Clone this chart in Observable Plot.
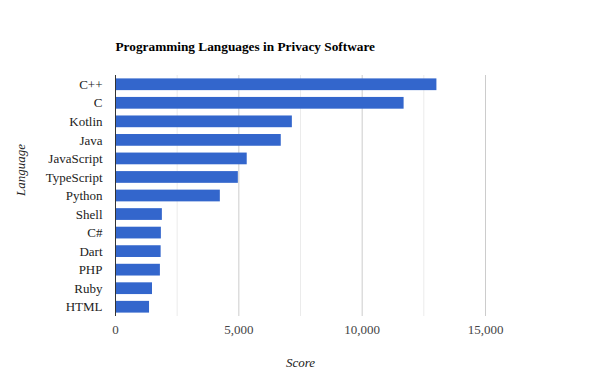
<!DOCTYPE html>
<html>
<head>
<meta charset="utf-8">
<script src="https://cdn.jsdelivr.net/npm/d3@7"></script>
<script src="https://cdn.jsdelivr.net/npm/@observablehq/plot@0.6"></script>
<style>
  html, body { margin: 0; padding: 0; background: white; }
</style>
</head>
<body>
<div id="chart"></div>
<script>
const title = "Programming Languages in Privacy Software";
const languages = ["C++", "C", "Kotlin", "Java", "JavaScript", "TypeScript", "Python", "Shell", "C#", "Dart", "PHP", "Ruby", "HTML"];
const scores = [13030, 11700, 7170, 6720, 5340, 4980, 4250, 1900, 1860, 1850, 1820, 1500, 1380];
const majorTicks = [0, 5000, 10000, 15000];
const minorTicks = [2500, 7500, 12500];
const xTitle = "Score";
const yTitle = "Language";

const data = languages.map((l, i) => ({ language: l, score: scores[i] }));
const font = "'Liberation Serif', 'DejaVu Serif', serif";

const chart = Plot.plot({
  width: 600,
  height: 390,
  marginLeft: 115,
  marginRight: 115,
  marginTop: 75,
  marginBottom: 74,
  style: { fontFamily: font, fontSize: "13px", background: "white", color: "#222" },
  x: { domain: [0, 15000], label: null },
  y: { domain: languages, padding: 0, round: false, label: null },
  marks: [
    Plot.ruleX(minorTicks, { stroke: "#ebebeb", strokeWidth: 1 }),
    Plot.ruleX(majorTicks.slice(1), { stroke: "#cccccc", strokeWidth: 1 }),
    Plot.barX(data, { x: "score", y: "language", fill: "#3366cc", insetTop: 3.4, insetBottom: 3.4 }),
    Plot.ruleX([0], { stroke: "#333", strokeWidth: 1 }),
    Plot.axisY({ tickSize: 0, tickPadding: 13, fill: "#222", fontSize: 13, label: null }),
    Plot.axisX({ ticks: majorTicks, tickSize: 0, tickPadding: 8, fill: "#444", fontSize: 13, tickFormat: d3.format(","), label: null }),
    Plot.text([title], { frameAnchor: "top-left", textAnchor: "start", lineAnchor: "middle", dy: -29, fontWeight: "bold", fontSize: 13.3, fill: "#000" }),
    Plot.text([xTitle], { frameAnchor: "bottom", lineAnchor: "middle", dy: 46, fontStyle: "italic", fontSize: 13, fill: "#222" }),
    Plot.text([yTitle], { frameAnchor: "left", lineAnchor: "middle", dx: -95, rotate: -90, fontStyle: "italic", fontSize: 13, fill: "#222" })
  ]
});
document.getElementById("chart").appendChild(chart);
</script>
</body>
</html>
